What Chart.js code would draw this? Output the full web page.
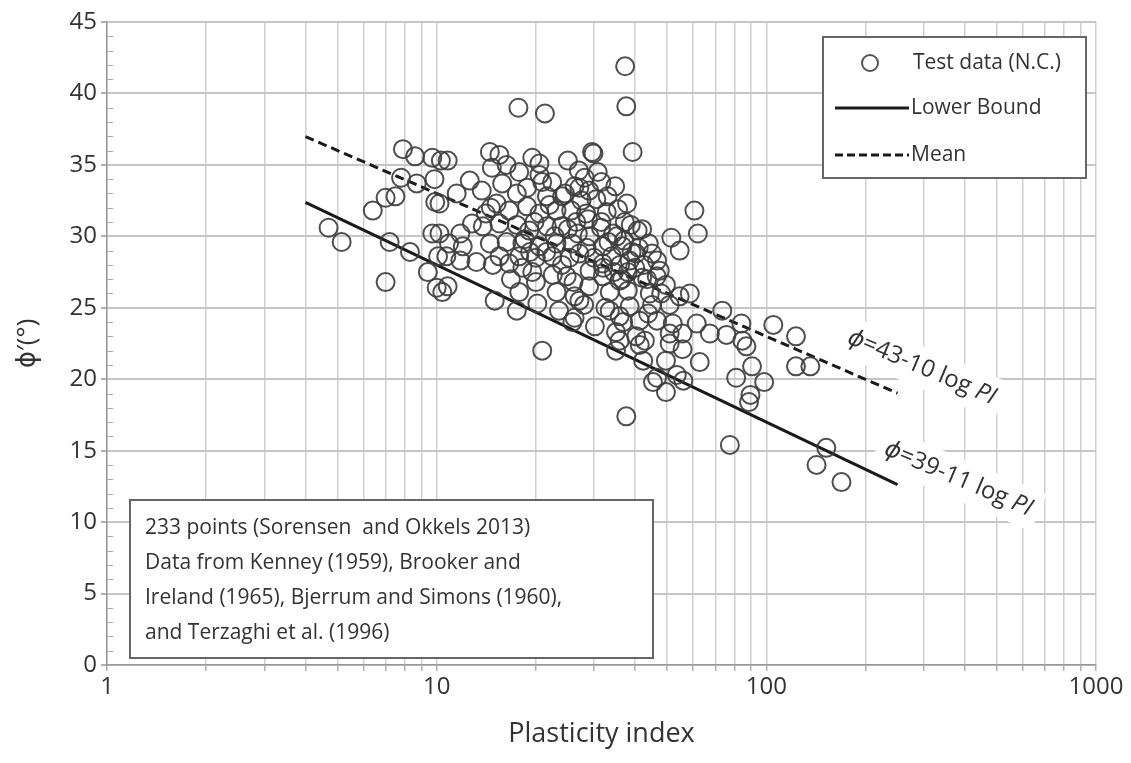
<!DOCTYPE html>
<html>
<head>
<meta charset="utf-8">
<title>Friction angle vs plasticity index</title>
<script src="https://cdn.jsdelivr.net/npm/chart.js@4.4.1/dist/chart.umd.min.js"></script>
<style>
    html, body { margin: 0; padding: 0; background: #fff; }
    .chart-wrap { position: relative; width: 1131px; height: 763px; }
</style>
</head>
<body>
<div class="chart-wrap"><canvas id="chart"></canvas></div>
<script>
// Test data (N.C.), PI and phi' pairs
const plasticityIndex = [
    4.7, 5.15, 6.4, 7.0, 7.5, 7.9, 8.6, 9.7, 7.8, 8.7, 9.85, 10.3, 7.2, 8.3, 7.0, 9.7, 10.2, 10.1, 9.4, 10.0,
    10.4, 10.2, 10.8, 10.8, 9.9,
    17.7, 21.3, 14.5, 15.5, 19.5, 20.5, 12.6, 13.7, 11.8, 12.0, 12.8, 11.8, 13.2, 15.0, 17.5, 14.1, 14.6, 17.8,
    20.2, 23.1, 26.2, 20.9, 11.5, 14.7, 16.3, 17.8, 20.5, 20.9, 15.8, 17.5, 18.8, 22.4, 21.6, 24.0, 26.2, 15.2,
    16.6, 18.8, 20.5, 23.1, 25.6, 13.8, 15.5, 17.5, 19.1, 21.6, 23.9, 14.5, 16.3, 18.2, 20.5, 23.1, 25.8, 15.5,
    17.8, 20.0, 22.4, 25.3, 10.9, 10.7, 14.8, 16.6, 18.2, 20.0, 26.2,
    25.0, 31.6, 28.1, 27.1, 28.4, 31.6, 34.3, 29.1, 31.9, 36.6, 40.3, 27.1, 45.0,
    29.1, 31.9, 35.9, 38.5, 42.0, 46.6, 44.3, 49.6, 54.6, 58.6, 33.5, 38.0, 29.0, 30.2, 35.0, 40.3, 41.3, 41.3,
    35.9, 46.6, 45.0, 50.9, 61.5, 55.7, 62.8, 49.6, 46.6, 45.3, 49.6, 56.0, 33.5, 38.5, 27.1, 42.3, 50.9, 55.7,
    31.9, 47.5,
    37.6, 77.5, 105, 123, 123, 81, 90.5, 98.5, 89.5, 88.6, 87, 84.6, 75.7, 67.4, 73.5, 84, 136, 152, 142, 169,
    53.5, 60.5, 62, 51.5, 54.6, 37.2, 40.7, 37.3, 37.6, 39.3, 29.6, 29.9, 25.8, 42.8, 35.9, 35, 52, 50.9,
    27.5, 28.8, 30.5, 31.5, 32.8, 33.2, 34.0, 35.2, 36.0, 37.0, 38.0, 39.0, 40.0, 41.0, 42.5, 43.5, 36.5, 34.5,
    32.0, 30.0, 28.5, 26.8, 25.0, 24.0, 22.5, 21.5, 19.5, 18.5, 19.8, 22.0, 24.5, 27.0, 29.0, 33.0, 35.5, 38.8,
    42.0, 44.0, 46.5, 48.0, 26.0, 28.0, 23.5, 32.5, 36.8, 43.8,
    30.8, 34.8, 26.5, 22.8, 19.2, 16.8, 24.8, 37.8
];
const frictionAngle = [
    30.6, 29.6, 31.8, 32.7, 32.8, 36.1, 35.6, 35.5, 34.1, 33.7, 34.0, 35.3, 29.6, 28.9, 26.8, 30.2, 30.2, 28.6, 27.5, 26.4,
    26.1, 32.3, 35.3, 26.5, 32.4,
    39.0, 38.6, 35.9, 35.7, 35.5, 35.1, 33.9, 33.2, 30.2, 29.3, 30.9, 28.3, 28.2, 25.5, 24.8, 31.6, 32.0, 26.1,
    25.3, 26.1, 24.3, 22.0, 33.0, 34.8, 35.0, 34.5, 34.3, 33.8, 33.7, 33.0, 33.4, 33.8, 32.8, 32.8, 33.5, 32.3,
    31.8, 32.1, 31.6, 31.8, 31.8, 30.7, 30.9, 30.8, 30.4, 30.7, 30.7, 29.5, 29.6, 29.5, 29.3, 29.5, 29.5, 28.6,
    28.6, 28.5, 28.6, 28.5, 29.5, 28.6, 28.0, 28.1, 27.8, 26.8, 25.8,
    35.3, 33.8, 34.1, 33.4, 31.6, 31.0, 30.2, 30.0, 29.3, 29.3, 28.8, 28.8, 28.8,
    27.6, 28.1, 26.9, 28.3, 27.1, 28.3, 26.0, 26.6, 25.8, 26.0, 26.1, 26.2, 26.5, 23.7, 23.3, 23.0, 22.4, 24.1,
    24.4, 24.1, 25.2, 25.2, 23.9, 22.1, 21.2, 21.3, 20.1, 19.8, 19.1, 19.9, 24.8, 25.1, 25.5, 21.3, 23.2, 23.2,
    27.2, 27.6,
    17.4, 15.4, 23.8, 23.0, 20.9, 20.1, 20.9, 19.8, 18.9, 18.4, 22.3, 22.7, 23.1, 23.2, 24.8, 23.9, 20.9, 15.2, 14.0, 12.8,
    20.3, 31.8, 30.2, 29.9, 29.0, 31.0, 30.4, 41.9, 39.1, 35.9, 35.9, 35.8, 24.0, 22.7, 22.7, 22.0, 23.9, 22.5,
    32.5, 31.2, 32.6, 30.6, 31.7, 29.6, 28.6, 30.0, 28.0, 29.7, 27.5, 28.9, 27.8, 29.2, 28.0, 27.0, 27.0, 27.5,
    27.8, 28.5, 29.2, 30.2, 30.5, 28.0, 27.3, 28.9, 27.5, 29.8, 31.0, 32.2, 33.0, 34.6, 33.2, 32.8, 31.9, 30.8,
    30.5, 29.5, 27.2, 26.0, 26.8, 25.2, 24.8, 25.0, 24.0, 24.6,
    34.5, 33.5, 31.0, 30.0, 28.9, 27.0, 27.2, 32.3
];

// Trend lines: phi = a - b log PI, drawn between PI = 4 and 250
const lineRange = [4, 250];
const lowerCoef = [39, 11];
const meanCoef = [43, 10];

// Axis ticks
const xTickLabels = [1, 10, 100, 1000];
const yTickLabels = [0, 5, 10, 15, 20, 25, 30, 35, 40, 45];
const logMantissas = [1, 2, 3, 4, 5, 6, 7, 8, 9];

const legendLabels = ['Test data (N.C.)', 'Lower Bound', 'Mean'];
const noteLines = [
    '233 points (Sorensen  and Okkels 2013)',
    'Data from Kenney (1959), Brooker and',
    'Ireland (1965), Bjerrum and Simons (1960),',
    'and Terzaghi et al. (1996)'
];
// Rotated equation labels, anchored at [PI, phi]
const eqLabels = [
    { at: [178, 23.0], parts: [['ϕ', true], ['=43-10 log ', false], ['PI', true]] },
    { at: [230, 15.2], parts: [['ϕ', true], ['=39-11 log ', false], ['PI', true]] }
];

const FONT = "'Open Sans', 'DejaVu Sans', sans-serif";
const TEXT = '#333';

const trend = (coef) => lineRange.map(pi => ({ x: pi, y: coef[0] - coef[1] * Math.log10(pi) }));

const xTicks = [];
xTickLabels.slice(0, -1).forEach(d => logMantissas.forEach(m => xTicks.push(m * d)));
xTicks.push(xTickLabels[xTickLabels.length - 1]);

// Minor ticks on the y axis (every 1 degree), drawn inside the plot
const minorTicks = {
    id: 'minorTicks',
    beforeDatasetsDraw(chart) {
        const { ctx, scales: { y }, chartArea } = chart;
        ctx.save();
        ctx.strokeStyle = '#aaa';
        ctx.lineWidth = 1;
        for (let v = y.min; v <= y.max; v++) {
            if (v % 5 === 0) continue;
            const py = Math.round(y.getPixelForValue(v)) + 0.5;
            ctx.beginPath();
            ctx.moveTo(chartArea.left, py);
            ctx.lineTo(chartArea.left + 6, py);
            ctx.stroke();
        }
        ctx.restore();
    }
};

// Equation labels along the lines, with a white patch behind them
const equationLabels = {
    id: 'equationLabels',
    beforeDatasetsDraw(chart) {
        const { ctx, scales: { x, y } } = chart;
        const size = 24;
        eqLabels.forEach(lbl => {
            const px = x.getPixelForValue(lbl.at[0]);
            const py = y.getPixelForValue(lbl.at[1]);
            ctx.save();
            ctx.translate(px, py);
            ctx.rotate(23 * Math.PI / 180);
            let w = 0;
            lbl.parts.forEach(([t, it]) => {
                ctx.font = `${it ? 'italic ' : ''}${size}px ${FONT}`;
                w += ctx.measureText(t).width;
            });
            ctx.fillStyle = '#fff';
            ctx.fillRect(-8, -20, w + 16, 40);
            ctx.fillStyle = TEXT;
            ctx.textBaseline = 'middle';
            let cx = 0;
            lbl.parts.forEach(([t, it]) => {
                ctx.font = `${it ? 'italic ' : ''}${size}px ${FONT}`;
                ctx.fillText(t, cx, 0);
                cx += ctx.measureText(t).width;
            });
            ctx.restore();
        });
    }
};

// Legend box (top right) and source note box (bottom left)
const boxes = {
    id: 'boxes',
    afterDraw(chart) {
        const { ctx } = chart;
        ctx.save();

        // legend
        ctx.fillStyle = '#fff';
        ctx.fillRect(823, 37, 263, 141);
        ctx.strokeStyle = '#666';
        ctx.lineWidth = 2;
        ctx.strokeRect(823, 37, 263, 141);

        ctx.beginPath();
        ctx.arc(870, 63, 8, 0, Math.PI * 2);
        ctx.strokeStyle = '#555';
        ctx.lineWidth = 2;
        ctx.stroke();

        ctx.strokeStyle = '#1a1a1a';
        ctx.lineWidth = 3;
        ctx.beginPath();
        ctx.moveTo(835, 108);
        ctx.lineTo(909, 108);
        ctx.stroke();
        ctx.setLineDash([8, 4]);
        ctx.beginPath();
        ctx.moveTo(835, 155);
        ctx.lineTo(909, 155);
        ctx.stroke();
        ctx.setLineDash([]);

        ctx.fillStyle = TEXT;
        ctx.font = `21px ${FONT}`;
        ctx.textBaseline = 'middle';
        legendLabels.forEach((t, i) => ctx.fillText(t, i === 0 ? 913 : 911, [63, 108, 155][i]));

        // note
        ctx.fillStyle = '#fff';
        ctx.fillRect(130, 500, 523, 158);
        ctx.strokeStyle = '#666';
        ctx.lineWidth = 2;
        ctx.strokeRect(130, 500, 523, 158);
        ctx.fillStyle = TEXT;
        noteLines.forEach((t, i) => ctx.fillText(t, 145, 528 + i * 35));

        ctx.restore();
    }
};

const ctx = document.getElementById('chart');

new Chart(ctx, {
    type: 'scatter',
    data: {
        datasets: [
            {
                label: 'Test data (N.C.)',
                data: plasticityIndex.map((pi, i) => ({ x: pi, y: frictionAngle[i] })),
                pointStyle: 'circle',
                pointRadius: 9,
                pointBorderWidth: 2,
                pointBorderColor: 'rgba(60,60,60,0.9)',
                pointBackgroundColor: 'rgba(0,0,0,0)'
            },
            {
                label: 'Lower Bound',
                data: trend(lowerCoef),
                showLine: true,
                pointRadius: 0,
                borderColor: '#1a1a1a',
                borderWidth: 3
            },
            {
                label: 'Mean',
                data: trend(meanCoef),
                showLine: true,
                pointRadius: 0,
                borderColor: '#1a1a1a',
                borderWidth: 3,
                borderDash: [9, 5]
            }
        ]
    },
    options: {
        responsive: true,
        maintainAspectRatio: false,
        animation: false,
        layout: { padding: { top: 22, right: 35, left: 0, bottom: 0 } },
        plugins: {
            legend: { display: false },
            tooltip: { enabled: false }
        },
        scales: {
            x: {
                type: 'logarithmic',
                min: 1,
                max: 1000,
                afterBuildTicks(scale) { scale.ticks = xTicks.map(v => ({ value: v })); },
                afterFit(scale) { scale.height = 98; },
                ticks: {
                    autoSkip: false,
                    maxRotation: 0,
                    color: TEXT,
                    padding: 2,
                    font: { family: FONT, size: 24 },
                    callback: (v) => xTickLabels.includes(v) ? String(v) : ''
                },
                grid: { color: '#d0d0d0', lineWidth: 1.5, tickLength: 6, tickColor: '#b0b0b0' },
                border: { color: '#999', width: 1.5 },
                title: {
                    display: true,
                    text: 'Plasticity index',
                    color: TEXT,
                    font: { family: FONT, size: 27 },
                    padding: { top: 0, bottom: 12 }
                }
            },
            y: {
                min: 0,
                max: 45,
                afterBuildTicks(scale) { scale.ticks = yTickLabels.map(v => ({ value: v })); },
                afterFit(scale) { scale.width = 107; },
                ticks: {
                    color: TEXT,
                    padding: 4,
                    font: { family: FONT, size: 24 }
                },
                grid: { color: '#c6c6c6', lineWidth: 2, tickLength: 6, tickColor: '#b0b0b0' },
                border: { color: '#999', width: 1.5 },
                title: {
                    display: true,
                    text: 'ϕ′(°)',
                    color: TEXT,
                    font: { family: FONT, size: 26 },
                    padding: { top: 12, bottom: 0 }
                }
            }
        }
    },
    plugins: [minorTicks, equationLabels, boxes]
});
</script>
</body>
</html>
